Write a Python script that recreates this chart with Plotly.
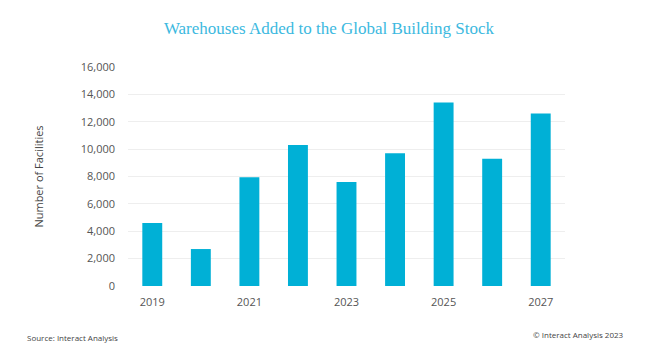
import plotly.graph_objects as go

years = [2019, 2020, 2021, 2022, 2023, 2024, 2025, 2026, 2027]
facilities = [4600, 2700, 7950, 10300, 7600, 9700, 13400, 9300, 12600]
x_ticks = [2019, 2021, 2023, 2025, 2027]
y_ticks = [0, 2000, 4000, 6000, 8000, 10000, 12000, 14000, 16000]

fig = go.Figure(go.Bar(x=years, y=facilities, marker_color="#00b0d6",
                       marker_line_width=0))

font = "Open Sans, Noto Sans, sans-serif"
fig.update_layout(
    width=645, height=350,
    margin=dict(l=128, r=80, t=67, b=64),
    paper_bgcolor="white", plot_bgcolor="white",
    bargap=0.59,
    showlegend=False,
    font=dict(family=font, size=11, color="#555555"),
    title=dict(text="Warehouses Added to the Global Building Stock",
               x=0.51, xanchor="center", y=0.92, yanchor="middle",
               font=dict(family="Liberation Serif, DejaVu Serif, serif", size=17, color="#3cb9e0")),
)
fig.update_xaxes(tickmode="array", tickvals=x_ticks, ticktext=[str(v) for v in x_ticks],
                 range=[2018.5, 2027.5], showgrid=False, zeroline=False, showline=False,
                 ticks="", ticklabelstandoff=8, tickfont=dict(size=11, color="#555555"))
fig.update_yaxes(range=[0, 16000], tickmode="array", tickvals=y_ticks,
                 ticktext=[f"{v:,}" for v in y_ticks],
                 gridcolor="#eeeeee", gridwidth=1, zeroline=False, showline=False,
                 ticks="", ticklen=0, ticklabelstandoff=12,
                 tickfont=dict(size=11, color="#555555"),
                 title=dict(text="Number of Facilities", standoff=34,
                            font=dict(size=11, color="#444444")))

fig.add_annotation(text="Source: Interact Analysis", xref="paper", yref="paper",
                   x=-0.235, y=-0.235, xanchor="left", yanchor="middle", showarrow=False,
                   font=dict(size=8, color="#444444"))
fig.add_annotation(text="© Interact Analysis 2023", xref="paper", yref="paper",
                   x=1.14, y=-0.222, xanchor="right", yanchor="middle", showarrow=False,
                   font=dict(size=8, color="#444444"))

fig.write_html("out.html")
